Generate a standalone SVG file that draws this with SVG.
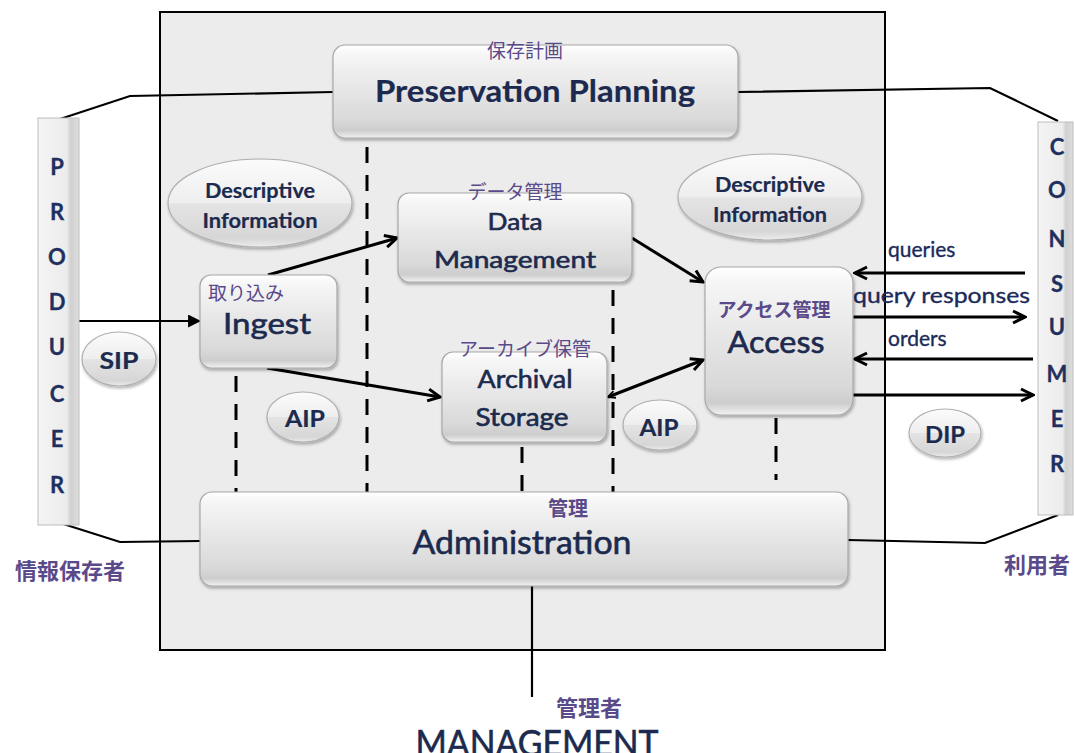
<svg xmlns="http://www.w3.org/2000/svg" width="1074" height="753" viewBox="0 0 1074 753">
<defs>
  <linearGradient id="boxg" x1="0" y1="0" x2="0" y2="1">
    <stop offset="0" stop-color="#ffffff"/>
    <stop offset="0.1" stop-color="#f6f6f6"/>
    <stop offset="0.8" stop-color="#d9d9d9"/>
    <stop offset="0.92" stop-color="#cdcdcd"/>
    <stop offset="1" stop-color="#f2f2f2"/>
  </linearGradient>
  <linearGradient id="ellg" x1="0" y1="0" x2="0" y2="1">
    <stop offset="0" stop-color="#fbfbfb"/>
    <stop offset="0.5" stop-color="#eeeeee"/>
    <stop offset="0.51" stop-color="#e4e4e4"/>
    <stop offset="0.9" stop-color="#d6d6d6"/>
    <stop offset="1" stop-color="#ececec"/>
  </linearGradient>
  <linearGradient id="colg" x1="0" y1="0" x2="1" y2="0">
    <stop offset="0" stop-color="#f4f4f4"/>
    <stop offset="0.7" stop-color="#ececec"/>
    <stop offset="0.8" stop-color="#d0d0d0"/>
    <stop offset="1" stop-color="#dedede"/>
  </linearGradient>
  <filter id="sh" x="-10%" y="-10%" width="120%" height="130%">
    <feDropShadow dx="1" dy="2" stdDeviation="1.5" flood-color="#000" flood-opacity="0.3"/>
  </filter>
  <filter id="speckle" x="0" y="0" width="100%" height="100%">
    <feTurbulence type="fractalNoise" baseFrequency="0.9" numOctaves="1" seed="3" result="n"/>
    <feColorMatrix in="n" type="matrix" values="0 0 0 0 0.84  0 0 0 0 0.84  0 0 0 0 0.84  0 0 0 -20 7" result="dots"/>
    <feComposite in="dots" in2="SourceGraphic" operator="atop"/>
  </filter>
  <marker id="open" viewBox="0 0 16 16" refX="14" refY="8" markerWidth="16" markerHeight="16" markerUnits="userSpaceOnUse" orient="auto">
    <path d="M2,2 L14,8 L2,14" fill="none" stroke="#000" stroke-width="3"/>
  </marker>
  <marker id="small" viewBox="0 0 10 10" refX="9" refY="5" markerWidth="9" markerHeight="9" markerUnits="userSpaceOnUse" orient="auto-start-reverse">
    <path d="M1,1 L9,5 L1,9" fill="none" stroke="#000" stroke-width="2"/>
  </marker>
  <marker id="tri" viewBox="0 0 12 12" refX="11" refY="6" markerWidth="13" markerHeight="13" markerUnits="userSpaceOnUse" orient="auto">
    <path d="M0,0 L12,6 L0,12 Z" fill="#000"/>
  </marker>
</defs>
<style>
  .box{fill:url(#boxg);stroke:#a8a8a8;stroke-width:1.2;filter:url(#sh)}
  .ell{fill:url(#ellg);stroke:#b0b0b0;stroke-width:1.2;filter:url(#sh)}
  .col{fill:url(#colg);stroke:#bdbdbd;stroke-width:1}
  .en{font-family:Lato,"Open Sans","Liberation Sans",sans-serif;fill:#1b2a4e;text-anchor:middle;stroke:#1b2a4e;stroke-width:0.6}
  .b{font-weight:bold;stroke-width:0.2}
  .lbl{font-family:Lato,"Open Sans","Liberation Sans",sans-serif;fill:#1b2a5a;font-size:21px;stroke:#1b2a5a;stroke-width:0.35}
  .jp{font-family:"Noto Sans CJK JP",sans-serif;fill:#5a4a8a;text-anchor:middle}
  .jb{font-weight:bold}
  .ln{fill:none;stroke:#000;stroke-width:2.2}
  .ar{fill:none;stroke:#000;stroke-width:3}
  .dash{fill:none;stroke:#000;stroke-width:3;stroke-dasharray:16 12}
  .letter{font-family:Lato,"Open Sans","Liberation Sans",sans-serif;font-weight:bold;font-size:22px;fill:#1f3060;text-anchor:middle;stroke:#1f3060;stroke-width:0.3}
</style>
<rect width="1074" height="753" fill="#ffffff"/>

<g id="frame">
  <rect x="160" y="12" width="725" height="638" fill="#ececec" filter="url(#speckle)"/>
  <rect x="160" y="12" width="725" height="638" fill="none" stroke="#000" stroke-width="2"/>
</g>

<g id="connectors">
  <polyline class="ln" points="57,120 130,96 333,92"/>
  <polyline class="ln" points="738,92 990,88 1058,121"/>
  <polyline class="ln" points="57,522 120,542 200,541"/>
  <polyline class="ln" points="848,540 985,543 1058,515"/>
  <line class="ln" x1="532" y1="586" x2="532" y2="697"/>
  <line class="ln" x1="78" y1="321" x2="200" y2="321" marker-end="url(#tri)"/>
  <line class="ar" x1="268" y1="275" x2="397" y2="238" marker-end="url(#open)"/>
  <line class="ar" x1="267" y1="368" x2="440" y2="397" marker-end="url(#open)"/>
  <line class="ar" x1="632" y1="238" x2="703" y2="282" marker-end="url(#open)"/>
  <line class="ar" x1="608" y1="397" x2="703" y2="360" marker-start="url(#small)" marker-end="url(#open)"/>
  <line class="ar" x1="1025" y1="273" x2="855" y2="273" marker-end="url(#open)"/>
  <line class="ar" x1="853" y1="317" x2="1025" y2="317" marker-end="url(#open)"/>
  <line class="ar" x1="1033" y1="359" x2="855" y2="359" marker-end="url(#open)"/>
  <line class="ar" x1="853" y1="395" x2="1033" y2="395" marker-end="url(#open)"/>
  <line class="dash" x1="367" y1="147" x2="367" y2="492"/>
  <line class="dash" x1="236" y1="376" x2="236" y2="492"/>
  <line class="dash" x1="613" y1="290" x2="613" y2="492"/>
  <line class="dash" x1="522" y1="447" x2="522" y2="492"/>
  <line class="dash" x1="776" y1="418" x2="776" y2="480"/>
  <text class="lbl" x="888" y="257">queries</text>
  <text class="lbl" x="853" y="303" textLength="177" lengthAdjust="spacingAndGlyphs">query responses</text>
  <text class="lbl" x="888" y="346">orders</text>
</g>

<g id="producer">
  <rect class="col" x="38" y="118" width="41" height="407"/>
  <text class="letter" x="57" y="175">P</text>
  <text class="letter" x="57" y="220">R</text>
  <text class="letter" x="57" y="265">O</text>
  <text class="letter" x="57" y="310">D</text>
  <text class="letter" x="57" y="355">U</text>
  <text class="letter" x="57" y="402">C</text>
  <text class="letter" x="57" y="447">E</text>
  <text class="letter" x="57" y="493">R</text>
  <text class="jp jb" x="70" y="579" font-size="22">情報保存者</text>
</g>

<g id="consumer">
  <rect class="col" x="1038" y="122" width="35" height="393"/>
  <text class="letter" x="1057" y="155">C</text>
  <text class="letter" x="1057" y="198">O</text>
  <text class="letter" x="1057" y="247">N</text>
  <text class="letter" x="1057" y="292">S</text>
  <text class="letter" x="1057" y="335">U</text>
  <text class="letter" x="1057" y="382">M</text>
  <text class="letter" x="1057" y="427">E</text>
  <text class="letter" x="1057" y="472">R</text>
  <text class="jp jb" x="1037" y="573" font-size="22">利用者</text>
</g>

<g id="preservation-planning">
  <rect class="box" x="333" y="45" width="405" height="93" rx="12"/>
  <text class="jp" x="525" y="58" font-size="19">保存計画</text>
  <text class="en b" x="535" y="102" font-size="30" textLength="320" lengthAdjust="spacingAndGlyphs">Preservation Planning</text>
</g>

<g id="descriptive-info-left">
  <ellipse class="ell" cx="260" cy="203" rx="92" ry="44"/>
  <text class="en b" x="260" y="198" font-size="21" textLength="110" lengthAdjust="spacingAndGlyphs">Descriptive</text>
  <text class="en b" x="260" y="228" font-size="21" textLength="115" lengthAdjust="spacingAndGlyphs">Information</text>
</g>

<g id="descriptive-info-right">
  <ellipse class="ell" cx="770" cy="197" rx="92" ry="43"/>
  <text class="en b" x="770" y="192" font-size="21" textLength="110" lengthAdjust="spacingAndGlyphs">Descriptive</text>
  <text class="en b" x="770" y="222" font-size="21" textLength="114" lengthAdjust="spacingAndGlyphs">Information</text>
</g>

<g id="ingest">
  <rect class="box" x="200" y="275" width="137" height="93" rx="11"/>
  <text class="jp" x="208" y="300" font-size="19" style="text-anchor:start">取り込み</text>
  <text class="en" x="267" y="334" font-size="29" textLength="88" lengthAdjust="spacingAndGlyphs">Ingest</text>
</g>

<g id="data-management">
  <rect class="box" x="398" y="193" width="234" height="89" rx="11"/>
  <text class="jp" x="515" y="199" font-size="19">データ管理</text>
  <text class="en" x="515" y="230" font-size="24" textLength="55" lengthAdjust="spacingAndGlyphs">Data</text>
  <text class="en" x="515" y="268" font-size="24" textLength="162" lengthAdjust="spacingAndGlyphs">Management</text>
</g>

<g id="archival-storage">
  <rect class="box" x="442" y="352" width="165" height="90" rx="11"/>
  <text class="jp" x="525" y="356" font-size="19">アーカイブ保管</text>
  <text class="en" x="525" y="388" font-size="25" textLength="95" lengthAdjust="spacingAndGlyphs">Archival</text>
  <text class="en" x="522" y="426" font-size="25" textLength="93" lengthAdjust="spacingAndGlyphs">Storage</text>
</g>

<g id="access">
  <rect class="box" x="705" y="267" width="148" height="148" rx="16"/>
  <text class="jp jb" x="774" y="317" font-size="19">アクセス管理</text>
  <text class="en" x="776" y="353" font-size="31" textLength="97" lengthAdjust="spacingAndGlyphs">Access</text>
</g>

<g id="administration">
  <rect class="box" x="200" y="492" width="648" height="94" rx="12"/>
  <text class="jp jb" x="568" y="516" font-size="20">管理</text>
  <text class="en" x="522" y="554" font-size="33" textLength="219" lengthAdjust="spacingAndGlyphs">Administration</text>
</g>

<g id="sip">
  <ellipse class="ell" cx="119" cy="359" rx="37" ry="27"/>
  <text class="en b" x="119" y="369" font-size="23" textLength="39" lengthAdjust="spacingAndGlyphs">SIP</text>
</g>

<g id="aip-1">
  <ellipse class="ell" cx="303" cy="417" rx="36" ry="25"/>
  <text class="en b" x="305" y="427" font-size="23" textLength="40" lengthAdjust="spacingAndGlyphs">AIP</text>
</g>

<g id="aip-2">
  <ellipse class="ell" cx="660" cy="425" rx="37" ry="25"/>
  <text class="en b" x="659" y="436" font-size="23" textLength="39" lengthAdjust="spacingAndGlyphs">AIP</text>
</g>

<g id="dip">
  <ellipse class="ell" cx="945" cy="433" rx="36" ry="24"/>
  <text class="en b" x="945" y="443" font-size="23" textLength="40" lengthAdjust="spacingAndGlyphs">DIP</text>
</g>

<g id="management">
  <text class="jp jb" x="589" y="716" font-size="22">管理者</text>
  <text class="en" x="537" y="756" font-size="36" textLength="243" lengthAdjust="spacingAndGlyphs">MANAGEMENT</text>
</g>
</svg>
